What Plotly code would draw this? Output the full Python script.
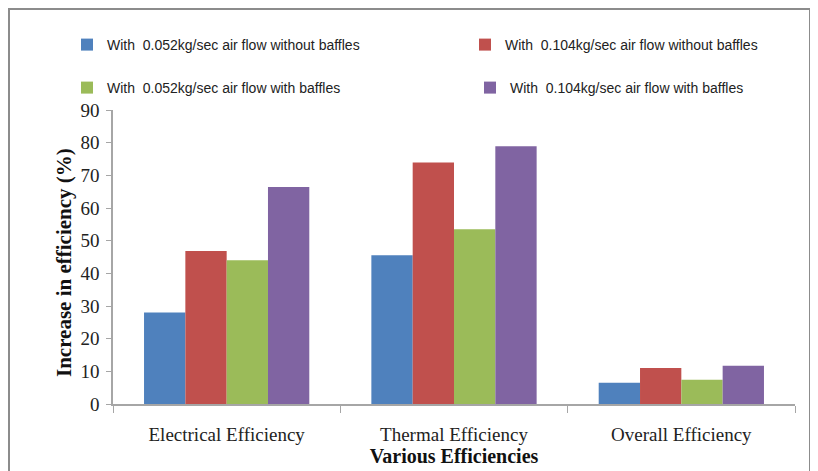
import plotly.graph_objects as go

categories = ["Electrical Efficiency", "Thermal Efficiency", "Overall Efficiency"]
series_names = [
    "With  0.052kg/sec air flow without baffles",
    "With  0.104kg/sec air flow without baffles",
    "With  0.052kg/sec air flow with baffles",
    "With  0.104kg/sec air flow with baffles",
]
s1 = [28.0, 45.5, 6.5]
s2 = [46.8, 73.9, 11.0]
s3 = [44.0, 53.5, 7.4]
s4 = [66.4, 78.9, 11.7]
colors = ["#4F81BD", "#C0504D", "#9BBB59", "#8064A2"]
y_ticks = [0, 10, 20, 30, 40, 50, 60, 70, 80, 90]
y_title = "Increase in efficiency (%)"
x_title = "Various Efficiencies"

OFF = 8  # page body margin
W, H = 818 - OFF, 471 - OFF
L, R, T, B = 113 - OFF, 818 - 795, 110 - OFF, 471 - 404
pw, ph = W - L - R, H - T - B

fig = go.Figure()
legend_ids = ["legend", "legend2", "legend3", "legend4"]
for name, vals, col, lg in zip(series_names, [s1, s2, s3, s4], colors, legend_ids):
    fig.add_trace(go.Bar(x=categories, y=vals, name=name, legend=lg,
                         marker=dict(color=col, line=dict(width=0))))

legend_font = dict(family="Liberation Sans Narrow, Liberation Sans, Arial", size=14, color="#222")
# (text-start x px, text-centre y px) for each legend entry, in page pixels
legend_pos = [(107, 45), (505, 45), (107, 88), (510, 88)]
legend_cfg = {}
for lg, (tx, ty) in zip(legend_ids, legend_pos):
    legend_cfg[lg] = dict(
        xref="container", yref="container",
        x=(tx - OFF - 40) / W, y=1 - (ty - OFF) / H, xanchor="left", yanchor="middle",
        font=legend_font, bgcolor="rgba(0,0,0,0)", borderwidth=0,
    )

fig.update_layout(
    width=W, height=H,
    margin=dict(l=L, r=R, t=T, b=B, autoexpand=False),
    paper_bgcolor="white", plot_bgcolor="white",
    barmode="group", bargap=0.273, bargroupgap=0,
    showlegend=True,
    xaxis=dict(
        showline=True, linecolor="#A6A6A6", linewidth=1.5,
        ticks="outside", tickson="boundaries", ticklen=7, tickcolor="#A6A6A6",
        ticklabelstandoff=12,
        tickfont=dict(family="Liberation Serif, DejaVu Serif", size=19, color="#222"),
        title=dict(text="<b>" + x_title + "</b>", standoff=2,
                   font=dict(family="Liberation Serif, DejaVu Serif", size=20, color="#111")),
        showgrid=False,
    ),
    yaxis=dict(
        range=[0, 90], tickvals=y_ticks, showline=True, linecolor="#A6A6A6", linewidth=1.5,
        ticks="outside", ticklen=5, tickcolor="#A6A6A6", ticklabelstandoff=3,
        tickfont=dict(family="Liberation Serif, DejaVu Serif", size=19, color="#222"),
        showgrid=False, zeroline=False,
    ),
    annotations=[dict(text="<b>" + y_title + "</b>", textangle=-90, showarrow=False,
                      xref="paper", yref="paper",
                      x=(64 - OFF - L) / pw, y=(H - B - (262 - OFF)) / ph,
                      xanchor="center", yanchor="middle",
                      font=dict(family="Liberation Serif, DejaVu Serif", size=21, color="#111"))],
    shapes=[dict(type="rect", xref="paper", yref="paper",
                 x0=(1 - L) / pw, x1=(802 - L) / pw,
                 y0=(H - B - 480) / ph, y1=(H - B - 1) / ph,
                 line=dict(color="#8C8C8C", width=2), fillcolor="rgba(0,0,0,0)", layer="below")],
    **legend_cfg,
)

fig.write_html("out.html")
